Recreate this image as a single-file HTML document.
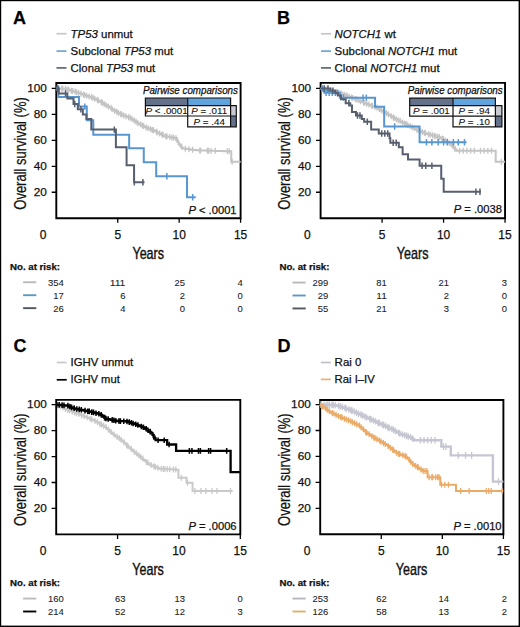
<!DOCTYPE html><html><head><meta charset="utf-8"><style>html,body{margin:0;padding:0;background:#fff;}svg{display:block;}</style></head><body><svg width="520" height="627" viewBox="0 0 520 627" font-family='"Liberation Sans", sans-serif'>
<style>text{stroke:#111;stroke-width:0.25px;}</style>
<rect x="0" y="0" width="520" height="627" fill="#fff"/>
<text x="12.9" y="24" font-size="18" font-weight="bold" fill="#000">A</text>
<text x="277" y="24" font-size="18" font-weight="bold" fill="#000">B</text>
<text x="13.4" y="352.2" font-size="18" font-weight="bold" fill="#000">C</text>
<text x="277.5" y="352.2" font-size="18" font-weight="bold" fill="#000">D</text>
<path d="M56.50,33.70 H66.50" stroke="#c6c6c6" stroke-width="1.7"/>
<text x="70.60" y="37.50" font-size="11.0" fill="#111" textLength="62.2" lengthAdjust="spacingAndGlyphs"><tspan font-style="italic">TP53</tspan> unmut</text>
<path d="M56.50,51.10 H66.50" stroke="#6fa6d2" stroke-width="1.7"/>
<text x="70.60" y="54.70" font-size="11.0" fill="#111" textLength="102.6" lengthAdjust="spacingAndGlyphs">Subclonal <tspan font-style="italic">TP53</tspan> mut</text>
<path d="M56.50,67.90 H66.50" stroke="#5f6774" stroke-width="1.7"/>
<text x="70.60" y="71.80" font-size="11.0" fill="#111" textLength="84.6" lengthAdjust="spacingAndGlyphs">Clonal <tspan font-style="italic">TP53</tspan> mut</text>
<path d="M321.00,33.80 H331.00" stroke="#c6c6c6" stroke-width="1.7"/>
<text x="334.60" y="37.50" font-size="11.0" fill="#111" textLength="61.2" lengthAdjust="spacingAndGlyphs"><tspan font-style="italic">NOTCH1</tspan> wt</text>
<path d="M321.00,51.10 H331.00" stroke="#6fa6d2" stroke-width="1.7"/>
<text x="334.60" y="54.70" font-size="11.0" fill="#111" textLength="122.6" lengthAdjust="spacingAndGlyphs">Subclonal <tspan font-style="italic">NOTCH1</tspan> mut</text>
<path d="M321.00,67.90 H331.00" stroke="#5f6774" stroke-width="1.7"/>
<text x="334.60" y="71.80" font-size="11.0" fill="#111" textLength="105.0" lengthAdjust="spacingAndGlyphs">Clonal <tspan font-style="italic">NOTCH1</tspan> mut</text>
<path d="M56.70,362.50 H66.70" stroke="#c8c8c8" stroke-width="1.7"/>
<text x="70.60" y="365.90" font-size="11.0" fill="#111" textLength="62.6" lengthAdjust="spacingAndGlyphs">IGHV unmut</text>
<path d="M56.70,379.80 H66.70" stroke="#000" stroke-width="1.7"/>
<text x="70.60" y="382.80" font-size="11.0" fill="#111" textLength="49.2" lengthAdjust="spacingAndGlyphs">IGHV mut</text>
<path d="M320.80,362.50 H330.80" stroke="#bfbfc8" stroke-width="1.7"/>
<text x="334.60" y="365.90" font-size="11.0" fill="#111" textLength="26.8" lengthAdjust="spacingAndGlyphs">Rai 0</text>
<path d="M320.80,379.40 H330.80" stroke="#e6b27a" stroke-width="1.7"/>
<text x="334.60" y="382.80" font-size="11.0" fill="#111" textLength="40.2" lengthAdjust="spacingAndGlyphs">Rai I–IV</text>
<path d="M56.30,83.00 H240.60 V218.20 H56.30 Z" fill="none" stroke="#000" stroke-width="1.9"/>
<path d="M51.70,192.25 H56.30 M51.70,166.30 H56.30 M51.70,140.35 H56.30 M51.70,114.40 H56.30 M51.70,88.45 H56.30 M117.73,218.20 V222.80 M179.17,218.20 V222.80 M240.60,218.20 V222.80 " stroke="#000" stroke-width="1.3" fill="none"/>
<text x="46.90" y="195.75" font-size="11.8" text-anchor="end" fill="#111">20</text>
<text x="46.90" y="169.80" font-size="11.8" text-anchor="end" fill="#111">40</text>
<text x="46.90" y="143.85" font-size="11.8" text-anchor="end" fill="#111">60</text>
<text x="46.90" y="117.90" font-size="11.8" text-anchor="end" fill="#111">80</text>
<text x="46.90" y="91.95" font-size="11.8" text-anchor="end" fill="#111">100</text>
<text x="43.10" y="238.90" font-size="12.0" text-anchor="middle" fill="#111">0</text>
<text x="117.73" y="238.90" font-size="12.0" text-anchor="middle" fill="#111">5</text>
<text x="179.17" y="238.90" font-size="12.0" text-anchor="middle" fill="#111">10</text>
<text x="240.60" y="238.90" font-size="12.0" text-anchor="middle" fill="#111">15</text>
<text x="148.25" y="258.50" font-size="16.2" text-anchor="middle" textLength="31.6" lengthAdjust="spacingAndGlyphs" fill="#111" style="stroke-width:0.4px">Years</text>
<text transform="translate(25.60,153.45) rotate(-90)" font-size="15.6" text-anchor="middle" fill="#111" textLength="112.5" lengthAdjust="spacingAndGlyphs">Overall survival (%)</text>
<path d="M320.60,82.90 H505.05 V218.20 H320.60 Z" fill="none" stroke="#000" stroke-width="1.9"/>
<path d="M316.00,192.25 H320.60 M316.00,166.30 H320.60 M316.00,140.35 H320.60 M316.00,114.40 H320.60 M316.00,88.45 H320.60 M382.08,218.20 V222.80 M443.57,218.20 V222.80 M505.05,218.20 V222.80 " stroke="#000" stroke-width="1.3" fill="none"/>
<text x="311.20" y="195.75" font-size="11.8" text-anchor="end" fill="#111">20</text>
<text x="311.20" y="169.80" font-size="11.8" text-anchor="end" fill="#111">40</text>
<text x="311.20" y="143.85" font-size="11.8" text-anchor="end" fill="#111">60</text>
<text x="311.20" y="117.90" font-size="11.8" text-anchor="end" fill="#111">80</text>
<text x="311.20" y="91.95" font-size="11.8" text-anchor="end" fill="#111">100</text>
<text x="307.40" y="238.90" font-size="12.0" text-anchor="middle" fill="#111">0</text>
<text x="382.08" y="238.90" font-size="12.0" text-anchor="middle" fill="#111">5</text>
<text x="443.57" y="238.90" font-size="12.0" text-anchor="middle" fill="#111">10</text>
<text x="505.05" y="238.90" font-size="12.0" text-anchor="middle" fill="#111">15</text>
<text x="412.63" y="258.50" font-size="16.2" text-anchor="middle" textLength="31.6" lengthAdjust="spacingAndGlyphs" fill="#111" style="stroke-width:0.4px">Years</text>
<text transform="translate(289.60,153.45) rotate(-90)" font-size="15.6" text-anchor="middle" fill="#111" textLength="112.5" lengthAdjust="spacingAndGlyphs">Overall survival (%)</text>
<path d="M56.20,399.85 H240.30 V534.40 H56.20 Z" fill="none" stroke="#000" stroke-width="1.9"/>
<path d="M51.60,508.45 H56.20 M51.60,482.50 H56.20 M51.60,456.55 H56.20 M51.60,430.60 H56.20 M51.60,404.65 H56.20 M117.57,534.40 V539.00 M178.93,534.40 V539.00 M240.30,534.40 V539.00 " stroke="#000" stroke-width="1.3" fill="none"/>
<text x="46.80" y="511.95" font-size="11.8" text-anchor="end" fill="#111">20</text>
<text x="46.80" y="486.00" font-size="11.8" text-anchor="end" fill="#111">40</text>
<text x="46.80" y="460.05" font-size="11.8" text-anchor="end" fill="#111">60</text>
<text x="46.80" y="434.10" font-size="11.8" text-anchor="end" fill="#111">80</text>
<text x="46.80" y="408.15" font-size="11.8" text-anchor="end" fill="#111">100</text>
<text x="43.00" y="555.10" font-size="12.0" text-anchor="middle" fill="#111">0</text>
<text x="117.57" y="555.10" font-size="12.0" text-anchor="middle" fill="#111">5</text>
<text x="178.93" y="555.10" font-size="12.0" text-anchor="middle" fill="#111">10</text>
<text x="240.30" y="555.10" font-size="12.0" text-anchor="middle" fill="#111">15</text>
<text x="148.05" y="574.70" font-size="16.2" text-anchor="middle" textLength="31.6" lengthAdjust="spacingAndGlyphs" fill="#111" style="stroke-width:0.4px">Years</text>
<text transform="translate(25.60,469.60) rotate(-90)" font-size="15.6" text-anchor="middle" fill="#111" textLength="112.6" lengthAdjust="spacingAndGlyphs">Overall survival (%)</text>
<path d="M320.20,399.95 H503.40 V534.30 H320.20 Z" fill="none" stroke="#000" stroke-width="1.9"/>
<path d="M315.60,508.35 H320.20 M315.60,482.40 H320.20 M315.60,456.45 H320.20 M315.60,430.50 H320.20 M315.60,404.55 H320.20 M381.27,534.30 V538.90 M442.33,534.30 V538.90 M503.40,534.30 V538.90 " stroke="#000" stroke-width="1.3" fill="none"/>
<text x="310.80" y="511.85" font-size="11.8" text-anchor="end" fill="#111">20</text>
<text x="310.80" y="485.90" font-size="11.8" text-anchor="end" fill="#111">40</text>
<text x="310.80" y="459.95" font-size="11.8" text-anchor="end" fill="#111">60</text>
<text x="310.80" y="434.00" font-size="11.8" text-anchor="end" fill="#111">80</text>
<text x="310.80" y="408.05" font-size="11.8" text-anchor="end" fill="#111">100</text>
<text x="307.00" y="555.00" font-size="12.0" text-anchor="middle" fill="#111">0</text>
<text x="381.27" y="555.00" font-size="12.0" text-anchor="middle" fill="#111">5</text>
<text x="442.33" y="555.00" font-size="12.0" text-anchor="middle" fill="#111">10</text>
<text x="503.40" y="555.00" font-size="12.0" text-anchor="middle" fill="#111">15</text>
<text x="411.60" y="574.60" font-size="16.2" text-anchor="middle" textLength="31.6" lengthAdjust="spacingAndGlyphs" fill="#111" style="stroke-width:0.4px">Years</text>
<text transform="translate(289.60,469.60) rotate(-90)" font-size="15.6" text-anchor="middle" fill="#111" textLength="112.6" lengthAdjust="spacingAndGlyphs">Overall survival (%)</text>
<path d="M56.30,88.45 L56.81,88.45 L56.81,88.49 L57.84,88.49 L57.84,88.54 L58.86,88.54 L58.86,88.58 L59.88,88.58 L59.88,88.62 L60.91,88.62 L60.91,88.66 L61.93,88.66 L61.93,88.71 L62.96,88.71 L62.96,88.75 L63.98,88.75 L63.98,88.79 L65.00,88.79 L65.00,88.83 L66.03,88.83 L66.03,89.11 L67.05,89.11 L67.05,89.41 L68.07,89.41 L68.07,89.72 L69.10,89.72 L69.10,90.02 L70.12,90.02 L70.12,90.33 L71.15,90.33 L71.15,90.63 L72.17,90.63 L72.17,90.94 L73.19,90.94 L73.19,91.24 L74.22,91.24 L74.22,91.55 L75.24,91.55 L75.24,91.88 L76.27,91.88 L76.27,92.23 L77.29,92.23 L77.29,92.58 L78.31,92.58 L78.31,92.93 L79.34,92.93 L79.34,93.28 L80.36,93.28 L80.36,93.63 L81.39,93.63 L81.39,93.98 L82.41,93.98 L82.41,94.34 L83.43,94.34 L83.43,94.69 L84.46,94.69 L84.46,95.04 L85.48,95.04 L85.48,95.39 L86.50,95.39 L86.50,95.74 L87.53,95.74 L87.53,96.09 L88.55,96.09 L88.55,96.44 L89.58,96.44 L89.58,96.79 L90.60,96.79 L90.60,97.14 L91.62,97.14 L91.62,97.50 L92.65,97.50 L92.65,97.85 L93.67,97.85 L93.67,98.20 L94.70,98.20 L94.70,98.71 L95.72,98.71 L95.72,99.30 L96.74,99.30 L96.74,99.88 L97.77,99.88 L97.77,100.47 L98.79,100.47 L98.79,101.05 L99.82,101.05 L99.82,101.64 L100.84,101.64 L100.84,102.23 L101.86,102.23 L101.86,102.81 L102.89,102.81 L102.89,103.40 L103.91,103.40 L103.91,103.98 L104.93,103.98 L104.93,104.57 L105.96,104.57 L105.96,105.16 L106.98,105.16 L106.98,105.74 L108.01,105.74 L108.01,106.43 L109.03,106.43 L109.03,107.13 L110.05,107.13 L110.05,107.83 L111.08,107.83 L111.08,108.54 L112.10,108.54 L112.10,109.24 L113.13,109.24 L113.13,109.95 L114.15,109.95 L114.15,110.65 L115.17,110.65 L115.17,111.30 L116.20,111.30 L116.20,111.83 L117.22,111.83 L117.22,112.35 L118.25,112.35 L118.25,112.87 L119.27,112.87 L119.27,113.40 L120.29,113.40 L120.29,113.92 L121.32,113.92 L121.32,114.44 L122.34,114.44 L122.34,114.97 L123.36,114.97 L123.36,115.38 L124.39,115.38 L124.39,115.78 L125.41,115.78 L125.41,116.17 L126.44,116.17 L126.44,116.56 L127.46,116.56 L127.46,116.96 L128.48,116.96 L128.48,117.35 L129.51,117.35 L129.51,117.75 L130.53,117.75 L130.53,118.23 L131.56,118.23 L131.56,118.96 L132.58,118.96 L132.58,119.68 L133.60,119.68 L133.60,120.40 L134.63,120.40 L134.63,121.12 L135.65,121.12 L135.65,121.84 L136.68,121.84 L136.68,122.56 L137.70,122.56 L137.70,123.28 L138.72,123.28 L138.72,123.85 L139.75,123.85 L139.75,124.37 L140.77,124.37 L140.77,124.88 L141.79,124.88 L141.79,125.39 L142.82,125.39 L142.82,125.91 L143.84,125.91 L143.84,126.42 L144.87,126.42 L144.87,126.94 L145.89,126.94 L145.89,127.41 L146.91,127.41 L146.91,127.82 L147.94,127.82 L147.94,128.23 L148.96,128.23 L148.96,128.65 L149.99,128.65 L149.99,129.06 L151.01,129.06 L151.01,129.47 L152.03,129.47 L152.03,129.88 L153.06,129.88 L153.06,130.29 L154.08,130.29 L154.08,130.80 L155.11,130.80 L155.11,131.33 L156.13,131.33 L156.13,131.86 L157.15,131.86 L157.15,132.39 L158.18,132.39 L158.18,132.92 L159.20,132.92 L159.20,133.44 L160.22,133.44 L160.22,133.97 L161.25,133.97 L161.25,134.50 L162.27,134.50 L162.27,135.03 L163.30,135.03 L163.30,135.56 L164.32,135.56 L164.32,136.00 L165.34,136.00 L165.34,136.20 L166.37,136.20 L166.37,136.41 L167.39,136.41 L167.39,136.61 L168.42,136.61 L168.42,136.82 L169.44,136.82 L169.44,137.02 L170.46,137.02 L170.46,137.23 L171.49,137.23 L171.49,137.43 L172.51,137.43 L172.51,137.63 L173.54,137.63 L173.54,137.84 L174.56,137.84 L174.56,138.04 L175.58,138.04 L175.58,138.25 L176.61,138.25 L176.61,140.00 L177.63,140.00 L177.63,141.96 L178.65,141.96 L178.65,143.93 L179.68,143.93 L179.68,145.38 L180.70,145.38 L180.70,146.54 L181.73,146.54 L181.73,147.70 L182.75,147.70 L182.75,148.45 L183.77,148.45 L183.77,148.58 L184.80,148.58 L184.80,148.72 L185.82,148.72 L185.82,148.85 L186.85,148.85 L186.85,148.99 L187.87,148.99 L187.87,149.12 L188.89,149.12 L188.89,149.26 L189.92,149.26 L189.92,149.39 L190.94,149.39 L190.94,149.53 L191.97,149.53 L191.97,149.66 L192.99,149.66 L192.99,149.80 L194.01,149.80 L194.01,149.94 L195.04,149.94 L195.04,150.07 L196.06,150.07 L196.06,150.21 L197.08,150.21 L197.08,150.34 L198.11,150.34 L198.11,150.37 L199.13,150.37 L199.13,150.40 L200.16,150.40 L200.16,150.43 L201.18,150.43 L201.18,150.46 L202.20,150.46 L202.20,150.49 L203.23,150.49 L203.23,150.52 L204.25,150.52 L204.25,150.55 L205.28,150.55 L205.28,150.58 L206.30,150.58 L206.30,150.61 L207.32,150.61 L207.32,150.64 L208.35,150.64 L208.35,150.67 L209.37,150.67 L209.37,150.70 L210.40,150.70 L210.40,150.73 L211.42,150.73 L211.42,150.76 L212.44,150.76 L212.44,150.79 L213.47,150.79 L213.47,150.83 L214.49,150.83 L214.49,150.86 L215.51,150.86 L215.51,150.89 L216.54,150.89 L216.54,150.92 L217.56,150.92 L217.56,150.95 L218.59,150.95 L218.59,150.98 L219.61,150.98 L219.61,151.01 L220.63,151.01 L220.63,151.04 L221.66,151.04 L221.66,151.07 L222.68,151.07 L222.68,151.10 L223.71,151.10 L223.71,151.13 L224.73,151.13 L224.73,151.16 L225.75,151.16 L225.75,151.19 L226.78,151.19 L226.78,151.22 L227.80,151.22 L227.80,151.25 L231.26,151.25 L231.26,161.76 L240.60,161.76" fill="none" stroke="#c4c4c4" stroke-width="2.0" stroke-linejoin="miter" stroke-linecap="butt"/>
<path d="M57.29,85.49 V91.49 M59.01,85.58 V91.58 M61.67,85.66 V91.66 M62.84,85.71 V91.71 M65.44,85.83 V91.83 M67.17,86.41 V92.41 M68.72,86.72 V92.72 M71.30,87.63 V93.63 M72.62,87.94 V93.94 M75.13,88.55 V94.55 M76.60,89.23 V95.23 M78.59,89.93 V95.93 M81.02,90.63 V96.63 M83.53,91.69 V97.69 M84.53,92.04 V98.04 M86.64,92.74 V98.74 M89.16,93.44 V99.44 M91.56,94.14 V100.14 M93.02,94.85 V100.85 M94.74,95.71 V101.71 M97.50,96.88 V102.88 M98.19,97.47 V103.47 M101.27,99.23 V105.23 M102.45,99.81 V105.81 M104.22,100.98 V106.98 M106.15,102.16 V108.16 M108.38,103.43 V109.43 M111.04,104.83 V110.83 M112.13,106.24 V112.24 M114.65,107.65 V113.65 M116.70,108.83 V114.83 M118.29,109.87 V115.87 M120.50,110.92 V116.92 M121.80,111.44 V117.44 M123.76,112.38 V118.38 M125.93,113.17 V119.17 M128.55,114.35 V120.35 M130.17,114.75 V120.75 M131.98,115.96 V121.96 M134.32,117.40 V123.40 M136.10,118.84 V124.84 M137.85,120.28 V126.28 M140.50,121.37 V127.37 M142.33,122.39 V128.39 M143.67,122.91 V128.91 M146.10,124.41 V130.41 M147.99,125.23 V131.23 M150.44,126.06 V132.06 M152.21,126.88 V132.88 M153.56,127.29 V133.29 M156.48,128.86 V134.86 M157.26,129.39 V135.39 M159.64,130.44 V136.44 M162.07,131.50 V137.50 M163.21,132.03 V138.03 M165.64,133.20 V139.20 M166.98,133.41 V139.41 M169.81,134.02 V140.02 M171.91,134.43 V140.43 M173.62,134.84 V140.84 M176.00,135.25 V141.25 M177.19,137.00 V143.00 M181.62,143.54 V149.54 M185.31,145.72 V151.72 M189.00,146.26 V152.26 M192.68,146.66 V152.66 M199.81,147.40 V153.40 M200.55,147.43 V153.43 M207.43,147.64 V153.64 M208.78,147.67 V153.67 M210.99,147.73 V153.73 M215.29,147.86 V153.86 M227.33,148.22 V154.22 M229.17,148.25 V154.25 M232.12,158.76 V164.76 " fill="none" stroke="#c4c4c4" stroke-width="1.3"/>
<path d="M56.30,88.45 L58.39,88.45 L58.39,97.01 L79.03,97.01 L79.03,106.61 L86.77,106.61 L86.77,120.24 L93.28,120.24 L93.28,134.77 L129.16,134.77 L129.16,148.26 L143.78,148.26 L143.78,162.28 L156.19,162.28 L156.19,176.29 L187.03,176.29 L187.03,197.18 L195.75,197.18" fill="none" stroke="#5896d2" stroke-width="2.0" stroke-linejoin="miter" stroke-linecap="butt"/>
<path d="M58.14,85.25 V91.65 M84.81,103.41 V109.81 M166.88,173.09 V179.49 M192.68,193.98 V200.38 " fill="none" stroke="#5896d2" stroke-width="1.5"/>
<path d="M56.30,88.45 L58.76,88.45 L58.76,93.38 L67.36,93.38 L67.36,98.44 L73.50,98.44 L73.50,104.02 L77.80,104.02 L77.80,109.21 L82.84,109.21 L82.84,114.40 L86.40,114.40 L86.40,118.94 L91.32,118.94 L91.32,129.58 L115.89,129.58 L115.89,147.36 L126.58,147.36 L126.58,165.26 L134.07,165.26 L134.07,182.26 L144.52,182.26" fill="none" stroke="#575f6f" stroke-width="2.0" stroke-linejoin="miter" stroke-linecap="butt"/>
<path d="M57.53,85.25 V91.65 M65.52,90.18 V96.58 M74.73,100.82 V107.22 M80.87,106.01 V112.41 M114.29,126.38 V132.78 M134.32,179.06 V185.46 M142.92,179.06 V185.46 " fill="none" stroke="#575f6f" stroke-width="1.5"/>
<text x="237.90" y="93.70" font-size="10.0" text-anchor="end" font-style="italic" textLength="95" lengthAdjust="spacingAndGlyphs" fill="#111">Pairwise comparisons</text>
<rect x="145.40" y="98.00" width="42.30" height="7.60" fill="#63718b"/>
<rect x="187.70" y="98.00" width="42.90" height="7.60" fill="#60a4de"/>
<rect x="230.60" y="105.60" width="5.70" height="10.40" fill="#c9c9d1"/>
<rect x="230.60" y="116.00" width="5.70" height="10.80" fill="#63718b"/>
<path d="M145.40,98.00 H230.60 V105.60 H145.40 Z M145.40,105.60 H236.30 V126.80 H187.70 V116.00 H145.40 Z M187.70,98.00 V126.80 M187.70,116.00 H236.30 M230.60,105.60 V126.80" fill="none" stroke="#111" stroke-width="1.2"/>
<text x="166.60" y="114.20" font-size="9.8" text-anchor="middle" fill="#111" style="stroke-width:0.1px"><tspan font-style="italic">P</tspan> &lt; .0001</text>
<text x="209.20" y="114.20" font-size="9.8" text-anchor="middle" fill="#111" style="stroke-width:0.1px"><tspan font-style="italic">P</tspan> = .011</text>
<text x="209.20" y="124.80" font-size="9.8" text-anchor="middle" fill="#111" style="stroke-width:0.1px"><tspan font-style="italic">P</tspan> = .44</text>
<text x="236.6" y="213.6" font-size="11.2" text-anchor="end" fill="#111"><tspan font-style="italic">P</tspan> &lt; .0001</text>
<path d="M320.60,88.45 L321.11,88.45 L321.11,88.68 L322.14,88.68 L322.14,88.91 L323.17,88.91 L323.17,89.14 L324.19,89.14 L324.19,89.37 L325.22,89.37 L325.22,89.61 L326.25,89.61 L326.25,89.84 L327.28,89.84 L327.28,90.07 L328.30,90.07 L328.30,90.30 L329.33,90.30 L329.33,90.53 L330.36,90.53 L330.36,90.76 L331.38,90.76 L331.38,90.99 L332.41,90.99 L332.41,91.22 L333.44,91.22 L333.44,91.46 L334.47,91.46 L334.47,91.69 L335.49,91.69 L335.49,91.92 L336.52,91.92 L336.52,92.15 L337.55,92.15 L337.55,92.38 L338.57,92.38 L338.57,92.62 L339.60,92.62 L339.60,93.02 L340.63,93.02 L340.63,93.43 L341.66,93.43 L341.66,93.83 L342.68,93.83 L342.68,94.24 L343.71,94.24 L343.71,94.64 L344.74,94.64 L344.74,95.05 L345.76,95.05 L345.76,95.45 L346.79,95.45 L346.79,95.86 L347.82,95.86 L347.82,96.26 L348.85,96.26 L348.85,96.67 L349.87,96.67 L349.87,97.07 L350.90,97.07 L350.90,97.48 L351.93,97.48 L351.93,97.88 L352.95,97.88 L352.95,98.29 L353.98,98.29 L353.98,98.69 L355.01,98.69 L355.01,99.09 L356.04,99.09 L356.04,99.50 L357.06,99.50 L357.06,99.90 L358.09,99.90 L358.09,100.31 L359.12,100.31 L359.12,100.73 L360.14,100.73 L360.14,101.14 L361.17,101.14 L361.17,101.56 L362.20,101.56 L362.20,101.98 L363.23,101.98 L363.23,102.39 L364.25,102.39 L364.25,102.81 L365.28,102.81 L365.28,103.23 L366.31,103.23 L366.31,103.64 L367.33,103.64 L367.33,104.06 L368.36,104.06 L368.36,104.48 L369.39,104.48 L369.39,104.90 L370.42,104.90 L370.42,105.31 L371.44,105.31 L371.44,105.73 L372.47,105.73 L372.47,106.15 L373.50,106.15 L373.50,106.56 L374.52,106.56 L374.52,106.98 L375.55,106.98 L375.55,107.40 L376.58,107.40 L376.58,107.81 L377.61,107.81 L377.61,108.32 L378.63,108.32 L378.63,108.92 L379.66,108.92 L379.66,109.53 L380.69,109.53 L380.69,110.14 L381.71,110.14 L381.71,110.75 L382.74,110.75 L382.74,111.35 L383.77,111.35 L383.77,111.96 L384.80,111.96 L384.80,112.57 L385.82,112.57 L385.82,113.18 L386.85,113.18 L386.85,113.78 L387.88,113.78 L387.88,114.39 L388.90,114.39 L388.90,115.00 L389.93,115.00 L389.93,115.61 L390.96,115.61 L390.96,116.21 L391.99,116.21 L391.99,116.82 L393.01,116.82 L393.01,117.43 L394.04,117.43 L394.04,118.04 L395.07,118.04 L395.07,118.64 L396.09,118.64 L396.09,119.25 L397.12,119.25 L397.12,119.80 L398.15,119.80 L398.15,120.33 L399.18,120.33 L399.18,120.85 L400.20,120.85 L400.20,121.38 L401.23,121.38 L401.23,121.90 L402.26,121.90 L402.26,122.43 L403.28,122.43 L403.28,122.95 L404.31,122.95 L404.31,123.47 L405.34,123.47 L405.34,124.00 L406.37,124.00 L406.37,124.52 L407.39,124.52 L407.39,125.05 L408.42,125.05 L408.42,125.57 L409.45,125.57 L409.45,126.10 L410.47,126.10 L410.47,126.62 L411.50,126.62 L411.50,127.15 L412.53,127.15 L412.53,127.67 L413.56,127.67 L413.56,128.19 L414.58,128.19 L414.58,128.72 L415.61,128.72 L415.61,129.24 L416.64,129.24 L416.64,129.68 L417.66,129.68 L417.66,130.12 L418.69,130.12 L418.69,130.56 L419.72,130.56 L419.72,131.00 L420.75,131.00 L420.75,131.44 L421.77,131.44 L421.77,131.88 L422.80,131.88 L422.80,132.33 L423.83,132.33 L423.83,132.77 L424.85,132.77 L424.85,133.21 L425.88,133.21 L425.88,133.59 L426.91,133.59 L426.91,133.88 L427.94,133.88 L427.94,134.16 L428.96,134.16 L428.96,134.45 L429.99,134.45 L429.99,134.74 L431.02,134.74 L431.02,135.02 L432.04,135.02 L432.04,135.31 L433.07,135.31 L433.07,135.60 L434.10,135.60 L434.10,135.89 L435.13,135.89 L435.13,136.17 L436.15,136.17 L436.15,136.46 L437.18,136.46 L437.18,136.75 L438.21,136.75 L438.21,137.03 L439.23,137.03 L439.23,137.32 L440.26,137.32 L440.26,137.75 L441.29,137.75 L441.29,138.40 L442.32,138.40 L442.32,139.04 L443.34,139.04 L443.34,139.69 L444.37,139.69 L444.37,140.33 L445.40,140.33 L445.40,140.98 L446.42,140.98 L446.42,141.62 L447.45,141.62 L447.45,142.27 L448.48,142.27 L448.48,142.92 L449.51,142.92 L449.51,143.56 L450.53,143.56 L450.53,144.21 L451.56,144.21 L451.56,144.94 L452.59,144.94 L452.59,146.18 L453.61,146.18 L453.61,147.42 L454.64,147.42 L454.64,148.66 L455.67,148.66 L455.67,149.91 L456.70,149.91 L456.70,150.86 L457.72,150.86 L457.72,150.86 L458.75,150.86 L458.75,150.86 L459.78,150.86 L459.78,150.86 L460.80,150.86 L460.80,150.86 L461.83,150.86 L461.83,150.86 L462.86,150.86 L462.86,150.86 L463.89,150.86 L463.89,150.86 L464.91,150.86 L464.91,150.86 L465.94,150.86 L465.94,150.86 L466.97,150.86 L466.97,150.86 L467.99,150.86 L467.99,150.86 L469.02,150.86 L469.02,150.86 L470.05,150.86 L470.05,150.86 L471.08,150.86 L471.08,150.86 L472.10,150.86 L472.10,150.86 L473.13,150.86 L473.13,150.86 L474.16,150.86 L474.16,150.86 L475.18,150.86 L475.18,150.86 L476.21,150.86 L476.21,150.86 L477.24,150.86 L477.24,150.86 L478.26,150.86 L478.26,150.86 L479.29,150.86 L479.29,150.86 L480.32,150.86 L480.32,150.86 L481.35,150.86 L481.35,150.86 L482.37,150.86 L482.37,150.86 L483.40,150.86 L483.40,150.86 L484.43,150.86 L484.43,150.86 L485.45,150.86 L485.45,150.86 L486.48,150.86 L486.48,150.86 L487.51,150.86 L487.51,150.86 L488.54,150.86 L488.54,150.86 L489.56,150.86 L489.56,150.86 L490.59,150.86 L490.59,150.86 L491.62,150.86 L491.62,150.86 L492.64,150.86 L492.64,150.86 L493.67,150.86 L493.67,150.86 L494.70,150.86 L494.70,150.86 L495.70,150.86 L495.70,161.63 L505.05,161.63" fill="none" stroke="#c4c4c4" stroke-width="2.0" stroke-linejoin="miter" stroke-linecap="butt"/>
<path d="M322.10,85.68 V91.68 M323.93,86.14 V92.14 M325.87,86.61 V92.61 M327.67,87.07 V93.07 M330.17,87.53 V93.53 M332.28,87.99 V93.99 M333.60,88.46 V94.46 M335.83,88.92 V94.92 M336.96,89.15 V95.15 M339.81,90.02 V96.02 M341.71,90.83 V96.83 M344.15,91.64 V97.64 M345.88,92.45 V98.45 M347.11,92.86 V98.86 M349.22,93.67 V99.67 M351.57,94.48 V100.48 M352.65,94.88 V100.88 M355.22,96.09 V102.09 M356.79,96.50 V102.50 M358.68,97.31 V103.31 M360.57,98.14 V104.14 M363.52,99.39 V105.39 M364.60,99.81 V105.81 M366.73,100.64 V106.64 M368.90,101.48 V107.48 M371.53,102.73 V108.73 M372.41,102.73 V108.73 M374.88,103.98 V109.98 M376.99,104.81 V110.81 M379.41,105.92 V111.92 M381.29,107.14 V113.14 M383.32,108.35 V114.35 M384.48,108.96 V114.96 M386.64,110.18 V116.18 M388.53,111.39 V117.39 M391.22,113.21 V119.21 M393.29,114.43 V120.43 M394.15,115.04 V121.04 M396.15,116.25 V122.25 M398.19,117.33 V123.33 M400.16,117.85 V123.85 M402.48,119.43 V125.43 M404.59,120.47 V126.47 M406.10,121.00 V127.00 M407.72,122.05 V128.05 M410.25,123.10 V129.10 M412.15,124.15 V130.15 M414.39,125.19 V131.19 M416.89,126.68 V132.68 M418.50,127.12 V133.12 M420.22,128.00 V134.00 M422.33,128.88 V134.88 M424.38,129.77 V135.77 M425.49,130.21 V136.21 M428.62,131.16 V137.16 M430.43,131.74 V137.74 M432.52,132.31 V138.31 M434.39,132.89 V138.89 M435.79,133.17 V139.17 M437.77,133.75 V139.75 M439.33,134.32 V140.32 M442.03,135.40 V141.40 M443.21,136.04 V142.04 M445.18,137.33 V143.33 M447.35,138.62 V144.62 M449.25,139.92 V145.92 M451.46,141.21 V147.21 M453.03,143.18 V149.18 M454.93,145.66 V151.66 M459.55,147.86 V153.86 M463.24,147.86 V153.86 M466.93,147.86 V153.86 M470.62,147.86 V153.86 M474.31,147.86 V153.86 M480.46,147.86 V153.86 M484.15,147.86 V153.86 M487.83,147.86 V153.86 M491.52,147.86 V153.86 M501.36,158.63 V164.63 " fill="none" stroke="#c4c4c4" stroke-width="1.3"/>
<path d="M320.60,88.45 L324.29,88.45 L324.29,92.86 L339.91,92.86 L339.91,97.66 L375.07,97.66 L375.07,106.87 L384.17,106.87 L384.17,126.47 L419.59,126.47 L419.59,142.30 L466.56,142.30" fill="none" stroke="#5896d2" stroke-width="2.0" stroke-linejoin="miter" stroke-linecap="butt"/>
<path d="M322.44,85.25 V91.65 M326.13,89.66 V96.06 M329.21,89.66 V96.06 M332.28,89.66 V96.06 M335.36,89.66 V96.06 M337.82,89.66 V96.06 M343.35,94.46 V100.86 M363.02,94.46 V100.86 M366.34,94.46 V100.86 M394.63,123.27 V129.67 M426.47,139.10 V145.50 M431.88,139.10 V145.50 M438.16,139.10 V145.50 M443.57,139.10 V145.50 M447.26,139.10 V145.50 M453.40,139.10 V145.50 M458.32,139.10 V145.50 M464.47,139.10 V145.50 " fill="none" stroke="#5896d2" stroke-width="1.5"/>
<path d="M320.60,88.45 L330.44,88.45 L330.44,90.79 L335.36,90.79 L335.36,93.12 L337.82,93.12 L337.82,95.59 L341.01,95.59 L341.01,99.35 L345.69,99.35 L345.69,103.24 L350.23,103.24 L350.23,105.58 L351.96,105.58 L351.96,112.06 L356.01,112.06 L356.01,115.57 L361.79,115.57 L361.79,118.94 L364.13,118.94 L364.13,121.80 L371.14,121.80 L371.14,129.58 L378.76,129.58 L378.76,133.47 L389.58,133.47 L389.58,138.14 L390.32,138.14 L390.32,142.69 L398.81,142.69 L398.81,147.36 L402.62,147.36 L402.62,154.23 L408.03,154.23 L408.03,159.55 L419.59,159.55 L419.59,165.78 L441.23,165.78 L441.23,178.76 L443.69,178.76 L443.69,191.73 L480.83,191.73" fill="none" stroke="#575f6f" stroke-width="2.0" stroke-linejoin="miter" stroke-linecap="butt"/>
<path d="M324.29,85.25 V91.65 M327.98,85.25 V91.65 M332.90,87.59 V93.99 M348.88,100.04 V106.44 M357.49,112.37 V118.77 M359.95,112.37 V118.77 M367.33,118.60 V125.00 M381.71,130.27 V136.67 M384.79,130.27 V136.67 M387.74,130.27 V136.67 M393.15,139.49 V145.89 M396.22,139.49 V145.89 M422.05,162.58 V168.98 M425.74,162.58 V168.98 M431.88,162.58 V168.98 M475.91,188.53 V194.93 M479.96,188.53 V194.93 " fill="none" stroke="#575f6f" stroke-width="1.5"/>
<text x="502.70" y="93.80" font-size="10.0" text-anchor="end" font-style="italic" textLength="95" lengthAdjust="spacingAndGlyphs" fill="#111">Pairwise comparisons</text>
<rect x="409.70" y="98.10" width="43.30" height="7.60" fill="#63718b"/>
<rect x="453.00" y="98.10" width="42.40" height="7.60" fill="#60a4de"/>
<rect x="495.40" y="105.70" width="6.50" height="10.40" fill="#c9c9d1"/>
<rect x="495.40" y="116.10" width="6.50" height="10.80" fill="#63718b"/>
<path d="M409.70,98.10 H495.40 V105.70 H409.70 Z M409.70,105.70 H501.90 V126.90 H453.00 V116.10 H409.70 Z M453.00,98.10 V126.90 M453.00,116.10 H501.90 M495.40,105.70 V126.90" fill="none" stroke="#111" stroke-width="1.2"/>
<text x="431.40" y="114.20" font-size="9.8" text-anchor="middle" fill="#111" style="stroke-width:0.1px"><tspan font-style="italic">P</tspan> = .001</text>
<text x="474.20" y="114.20" font-size="9.8" text-anchor="middle" fill="#111" style="stroke-width:0.1px"><tspan font-style="italic">P</tspan> = .94</text>
<text x="474.20" y="124.60" font-size="9.8" text-anchor="middle" fill="#111" style="stroke-width:0.1px"><tspan font-style="italic">P</tspan> = .10</text>
<text x="502.0" y="213.3" font-size="11.2" text-anchor="end" fill="#111"><tspan font-style="italic">P</tspan> = .0038</text>
<path d="M56.20,404.65 L56.71,404.65 L56.71,405.11 L57.74,405.11 L57.74,405.57 L58.77,405.57 L58.77,406.04 L59.80,406.04 L59.80,406.50 L60.83,406.50 L60.83,406.96 L61.85,406.96 L61.85,407.42 L62.88,407.42 L62.88,407.88 L63.91,407.88 L63.91,408.35 L64.94,408.35 L64.94,408.81 L65.97,408.81 L65.97,409.24 L66.99,409.24 L66.99,409.63 L68.02,409.63 L68.02,410.02 L69.05,410.02 L69.05,410.41 L70.08,410.41 L70.08,410.80 L71.11,410.80 L71.11,411.19 L72.13,411.19 L72.13,411.58 L73.16,411.58 L73.16,411.97 L74.19,411.97 L74.19,412.36 L75.22,412.36 L75.22,412.75 L76.25,412.75 L76.25,413.15 L77.27,413.15 L77.27,413.54 L78.30,413.54 L78.30,413.93 L79.33,413.93 L79.33,414.32 L80.36,414.32 L80.36,414.75 L81.39,414.75 L81.39,415.18 L82.41,415.18 L82.41,415.62 L83.44,415.62 L83.44,416.06 L84.47,416.06 L84.47,416.49 L85.50,416.49 L85.50,416.93 L86.53,416.93 L86.53,417.37 L87.55,417.37 L87.55,417.80 L88.58,417.80 L88.58,418.24 L89.61,418.24 L89.61,418.68 L90.64,418.68 L90.64,419.11 L91.67,419.11 L91.67,419.55 L92.69,419.55 L92.69,419.99 L93.72,419.99 L93.72,420.42 L94.75,420.42 L94.75,420.91 L95.78,420.91 L95.78,421.52 L96.81,421.52 L96.81,422.14 L97.83,422.14 L97.83,422.75 L98.86,422.75 L98.86,423.37 L99.89,423.37 L99.89,423.99 L100.92,423.99 L100.92,424.60 L101.95,424.60 L101.95,425.22 L102.98,425.22 L102.98,425.83 L104.00,425.83 L104.00,426.45 L105.03,426.45 L105.03,427.07 L106.06,427.07 L106.06,427.88 L107.09,427.88 L107.09,428.86 L108.12,428.86 L108.12,429.85 L109.14,429.85 L109.14,430.84 L110.17,430.84 L110.17,431.82 L111.20,431.82 L111.20,432.81 L112.23,432.81 L112.23,433.77 L113.26,433.77 L113.26,434.51 L114.28,434.51 L114.28,435.25 L115.31,435.25 L115.31,435.99 L116.34,435.99 L116.34,436.72 L117.37,436.72 L117.37,437.46 L118.40,437.46 L118.40,438.20 L119.42,438.20 L119.42,438.94 L120.45,438.94 L120.45,439.67 L121.48,439.67 L121.48,440.41 L122.51,440.41 L122.51,441.16 L123.54,441.16 L123.54,442.17 L124.56,442.17 L124.56,443.18 L125.59,443.18 L125.59,444.19 L126.62,444.19 L126.62,445.21 L127.65,445.21 L127.65,446.22 L128.68,446.22 L128.68,447.23 L129.70,447.23 L129.70,448.20 L130.73,448.20 L130.73,449.08 L131.76,449.08 L131.76,449.95 L132.79,449.95 L132.79,450.83 L133.82,450.83 L133.82,451.70 L134.84,451.70 L134.84,452.58 L135.87,452.58 L135.87,453.45 L136.90,453.45 L136.90,454.33 L137.93,454.33 L137.93,455.20 L138.96,455.20 L138.96,456.08 L139.98,456.08 L139.98,456.93 L141.01,456.93 L141.01,457.77 L142.04,457.77 L142.04,458.60 L143.07,458.60 L143.07,459.44 L144.10,459.44 L144.10,460.27 L145.12,460.27 L145.12,461.11 L146.15,461.11 L146.15,461.94 L147.18,461.94 L147.18,462.78 L148.21,462.78 L148.21,463.61 L149.24,463.61 L149.24,464.45 L150.26,464.45 L150.26,465.00 L151.29,465.00 L151.29,465.40 L152.32,465.40 L152.32,465.81 L153.35,465.81 L153.35,466.21 L154.38,466.21 L154.38,466.62 L155.40,466.62 L155.40,467.03 L156.43,467.03 L156.43,467.43 L157.46,467.43 L157.46,467.84 L158.49,467.84 L158.49,468.24 L159.52,468.24 L159.52,468.65 L160.54,468.65 L160.54,468.79 L161.57,468.79 L161.57,468.85 L162.60,468.85 L162.60,468.91 L163.63,468.91 L163.63,468.96 L164.66,468.96 L164.66,469.02 L165.68,469.02 L165.68,469.08 L166.71,469.08 L166.71,469.14 L167.74,469.14 L167.74,469.19 L168.77,469.19 L168.77,469.25 L169.80,469.25 L169.80,469.31 L170.82,469.31 L170.82,469.37 L171.85,469.37 L171.85,469.42 L172.88,469.42 L172.88,469.48 L173.91,469.48 L173.91,469.54 L174.94,469.54 L174.94,469.60 L175.96,469.60 L175.96,469.65 L178.44,469.65 L178.44,477.83 L186.54,477.83 L186.54,482.76 L192.56,482.76 L192.56,490.93 L232.69,490.93" fill="none" stroke="#c9c9c9" stroke-width="2.0" stroke-linejoin="miter" stroke-linecap="butt"/>
<path d="M58.26,402.57 V408.57 M60.49,403.50 V409.50 M62.86,404.42 V410.42 M65.34,405.81 V411.81 M67.66,406.63 V412.63 M69.23,407.41 V413.41 M72.19,408.58 V414.58 M74.36,409.36 V415.36 M76.26,410.15 V416.15 M78.71,410.93 V416.93 M81.59,412.18 V418.18 M84.01,413.06 V419.06 M87.21,414.37 V420.37 M90.12,415.68 V421.68 M91.70,416.55 V422.55 M95.00,417.91 V423.91 M97.54,419.14 V425.14 M99.94,420.99 V426.99 M101.38,421.60 V427.60 M103.59,422.83 V428.83 M106.05,424.07 V430.07 M108.45,426.85 V432.85 M110.92,428.82 V434.82 M114.10,431.51 V437.51 M117.03,433.72 V439.72 M119.38,435.20 V441.20 M121.21,436.67 V442.67 M123.97,439.17 V445.17 M126.67,442.21 V448.21 M127.90,443.22 V449.22 M131.34,446.08 V452.08 M134.23,448.70 V454.70 M136.46,450.45 V456.45 M138.86,452.20 V458.20 M140.85,453.93 V459.93 M142.79,455.60 V461.60 M146.29,458.94 V464.94 M147.96,459.78 V465.78 M151.22,462.00 V468.00 M153.97,463.21 V469.21 M155.44,464.03 V470.03 M157.90,464.84 V470.84 M161.29,465.79 V471.79 M163.36,465.91 V471.91 M164.87,466.02 V472.02 M167.25,466.14 V472.14 M169.74,466.25 V472.25 M173.49,466.48 V472.48 M175.78,466.60 V472.60 M181.39,474.83 V480.83 M187.52,479.76 V485.76 M194.89,487.93 V493.93 M201.03,487.93 V493.93 M205.93,487.93 V493.93 M212.07,487.93 V493.93 M216.98,487.93 V493.93 M230.48,487.93 V493.93 " fill="none" stroke="#c9c9c9" stroke-width="1.3"/>
<path d="M56.20,404.65 L56.71,404.65 L56.71,404.73 L57.74,404.73 L57.74,404.82 L58.77,404.82 L58.77,404.90 L59.80,404.90 L59.80,404.99 L60.83,404.99 L60.83,405.07 L61.86,405.07 L61.86,405.16 L62.89,405.16 L62.89,405.24 L63.92,405.24 L63.92,405.33 L64.95,405.33 L64.95,405.41 L65.98,405.41 L65.98,405.50 L67.01,405.50 L67.01,405.67 L68.04,405.67 L68.04,406.09 L69.07,406.09 L69.07,406.50 L70.10,406.50 L70.10,406.92 L71.13,406.92 L71.13,407.33 L72.16,407.33 L72.16,407.75 L73.19,407.75 L73.19,408.16 L74.22,408.16 L74.22,408.58 L75.25,408.58 L75.25,408.82 L76.28,408.82 L76.28,409.02 L77.31,409.02 L77.31,409.22 L78.34,409.22 L78.34,409.41 L79.37,409.41 L79.37,409.61 L80.40,409.61 L80.40,409.80 L81.43,409.80 L81.43,410.00 L82.46,410.00 L82.46,410.20 L83.49,410.20 L83.49,410.39 L84.52,410.39 L84.52,410.59 L85.55,410.59 L85.55,410.79 L86.58,410.79 L86.58,410.98 L87.61,410.98 L87.61,411.18 L88.64,411.18 L88.64,411.38 L89.67,411.38 L89.67,411.59 L90.70,411.59 L90.70,411.85 L91.73,411.85 L91.73,412.12 L92.76,412.12 L92.76,412.39 L93.79,412.39 L93.79,412.65 L94.82,412.65 L94.82,412.92 L95.85,412.92 L95.85,413.18 L96.88,413.18 L96.88,413.45 L97.91,413.45 L97.91,413.72 L98.94,413.72 L98.94,413.98 L99.97,413.98 L99.97,414.25 L101.00,414.25 L101.00,414.85 L102.03,414.85 L102.03,415.77 L103.06,415.77 L103.06,416.69 L104.09,416.69 L104.09,417.61 L105.12,417.61 L105.12,418.53 L106.15,418.53 L106.15,418.84 L107.18,418.84 L107.18,419.05 L108.21,419.05 L108.21,419.26 L109.24,419.26 L109.24,419.47 L110.27,419.47 L110.27,419.68 L111.30,419.68 L111.30,419.88 L112.33,419.88 L112.33,420.09 L113.36,420.09 L113.36,420.30 L114.39,420.30 L114.39,420.51 L115.42,420.51 L115.42,420.72 L116.45,420.72 L116.45,420.93 L117.48,420.93 L117.48,421.02 L118.51,421.02 L118.51,421.05 L119.54,421.05 L119.54,421.08 L120.57,421.08 L120.57,421.10 L121.60,421.10 L121.60,421.13 L122.63,421.13 L122.63,421.16 L123.66,421.16 L123.66,421.19 L124.69,421.19 L124.69,421.22 L125.72,421.22 L125.72,421.25 L126.75,421.25 L126.75,421.50 L127.78,421.50 L127.78,421.83 L128.81,421.83 L128.81,422.16 L129.84,422.16 L129.84,422.48 L130.87,422.48 L130.87,422.81 L131.90,422.81 L131.90,423.14 L132.93,423.14 L132.93,423.47 L133.96,423.47 L133.96,423.80 L134.99,423.80 L134.99,424.19 L136.02,424.19 L136.02,424.58 L137.05,424.58 L137.05,424.97 L138.08,424.97 L138.08,425.36 L139.11,425.36 L139.11,425.76 L140.14,425.76 L140.14,426.15 L141.17,426.15 L141.17,426.54 L142.20,426.54 L142.20,426.93 L143.23,426.93 L143.23,427.32 L144.26,427.32 L144.26,428.02 L145.29,428.02 L145.29,428.75 L146.32,428.75 L146.32,429.47 L147.35,429.47 L147.35,430.20 L148.38,430.20 L148.38,430.93 L149.41,430.93 L149.41,431.65 L150.44,431.65 L150.44,432.38 L151.47,432.38 L151.47,433.16 L152.50,433.16 L152.50,434.92 L153.53,434.92 L153.53,436.68 L154.56,436.68 L154.56,438.44 L155.59,438.44 L155.59,440.20 L167.15,440.20 L167.15,444.48 L176.11,444.48 L176.11,450.84 L230.60,450.84 L230.60,472.12 L239.81,472.12" fill="none" stroke="#000" stroke-width="2.3" stroke-linejoin="miter" stroke-linecap="butt"/>
<path d="M56.83,401.93 V407.53 M59.20,402.10 V407.70 M62.10,402.36 V407.96 M63.98,402.53 V408.13 M67.89,402.87 V408.47 M69.90,403.70 V409.30 M71.55,404.53 V410.13 M74.18,405.36 V410.96 M76.80,406.22 V411.82 M79.29,406.61 V412.21 M81.33,407.00 V412.60 M85.03,407.79 V413.39 M87.73,408.38 V413.98 M89.28,408.58 V414.18 M91.76,409.32 V414.92 M93.54,409.59 V415.19 M96.02,410.38 V415.98 M98.89,410.92 V416.52 M101.21,412.05 V417.65 M104.63,414.81 V420.41 M105.94,415.73 V421.33 M108.16,416.25 V421.85 M112.20,417.08 V422.68 M113.93,417.50 V423.10 M115.73,417.92 V423.52 M118.87,418.25 V423.85 M120.44,418.28 V423.88 M123.75,418.39 V423.99 M126.98,418.70 V424.30 M129.24,419.36 V424.96 M131.40,420.01 V425.61 M133.11,420.67 V426.27 M135.75,421.39 V426.99 M137.86,422.17 V427.77 M141.35,423.74 V429.34 M143.40,424.52 V430.12 M146.27,425.95 V431.55 M147.96,427.40 V433.00 M150.23,428.85 V434.45 M153.69,433.88 V439.48 M158.07,437.40 V443.00 M164.21,437.40 V443.00 M169.11,441.68 V447.28 M189.37,448.04 V453.64 M191.94,448.04 V453.64 M198.45,448.04 V453.64 M200.41,448.04 V453.64 M208.63,448.04 V453.64 M210.60,448.04 V453.64 M226.68,448.04 V453.64 " fill="none" stroke="#000" stroke-width="1.5"/>
<text x="236.6" y="529.6" font-size="11.2" text-anchor="end" fill="#111"><tspan font-style="italic">P</tspan> = .0006</text>
<path d="M320.20,404.55 L320.71,404.55 L320.71,404.59 L321.73,404.59 L321.73,404.62 L322.74,404.62 L322.74,404.66 L323.76,404.66 L323.76,404.69 L324.78,404.69 L324.78,404.73 L325.80,404.73 L325.80,404.76 L326.82,404.76 L326.82,404.80 L327.83,404.80 L327.83,404.84 L328.85,404.84 L328.85,404.87 L329.87,404.87 L329.87,404.91 L330.89,404.91 L330.89,404.94 L331.90,404.94 L331.90,404.98 L332.92,404.98 L332.92,405.01 L333.94,405.01 L333.94,405.05 L334.96,405.05 L334.96,405.19 L335.98,405.19 L335.98,405.46 L336.99,405.46 L336.99,405.72 L338.01,405.72 L338.01,405.98 L339.03,405.98 L339.03,406.24 L340.05,406.24 L340.05,406.51 L341.06,406.51 L341.06,406.77 L342.08,406.77 L342.08,407.03 L343.10,407.03 L343.10,407.37 L344.12,407.37 L344.12,407.78 L345.14,407.78 L345.14,408.19 L346.15,408.19 L346.15,408.60 L347.17,408.60 L347.17,409.01 L348.19,409.01 L348.19,409.42 L349.21,409.42 L349.21,409.83 L350.22,409.83 L350.22,410.24 L351.24,410.24 L351.24,410.65 L352.26,410.65 L352.26,411.06 L353.28,411.06 L353.28,411.47 L354.30,411.47 L354.30,411.89 L355.31,411.89 L355.31,412.35 L356.33,412.35 L356.33,412.81 L357.35,412.81 L357.35,413.27 L358.37,413.27 L358.37,413.73 L359.38,413.73 L359.38,414.19 L360.40,414.19 L360.40,414.65 L361.42,414.65 L361.42,415.11 L362.44,415.11 L362.44,415.57 L363.46,415.57 L363.46,416.03 L364.47,416.03 L364.47,416.49 L365.49,416.49 L365.49,416.95 L366.51,416.95 L366.51,417.43 L367.53,417.43 L367.53,417.91 L368.54,417.91 L368.54,418.38 L369.56,418.38 L369.56,418.86 L370.58,418.86 L370.58,419.34 L371.60,419.34 L371.60,419.82 L372.62,419.82 L372.62,420.30 L373.63,420.30 L373.63,420.77 L374.65,420.77 L374.65,421.25 L375.67,421.25 L375.67,421.73 L376.69,421.73 L376.69,422.21 L377.70,422.21 L377.70,422.69 L378.72,422.69 L378.72,423.17 L379.74,423.17 L379.74,423.64 L380.76,423.64 L380.76,424.12 L381.78,424.12 L381.78,424.60 L382.79,424.60 L382.79,425.08 L383.81,425.08 L383.81,425.55 L384.83,425.55 L384.83,426.03 L385.85,426.03 L385.85,426.51 L386.86,426.51 L386.86,426.99 L387.88,426.99 L387.88,427.47 L388.90,427.47 L388.90,427.94 L389.92,427.94 L389.92,428.42 L390.94,428.42 L390.94,428.90 L391.95,428.90 L391.95,429.38 L392.97,429.38 L392.97,429.85 L393.99,429.85 L393.99,430.33 L395.01,430.33 L395.01,430.94 L396.02,430.94 L396.02,431.57 L397.04,431.57 L397.04,432.19 L398.06,432.19 L398.06,432.82 L399.08,432.82 L399.08,433.44 L400.10,433.44 L400.10,433.91 L401.11,433.91 L401.11,434.24 L402.13,434.24 L402.13,434.57 L403.15,434.57 L403.15,434.89 L404.17,434.89 L404.17,435.22 L405.18,435.22 L405.18,435.55 L406.20,435.55 L406.20,435.88 L407.22,435.88 L407.22,436.20 L408.24,436.20 L408.24,436.53 L409.26,436.53 L409.26,436.86 L410.27,436.86 L410.27,437.27 L411.29,437.27 L411.29,438.01 L412.31,438.01 L412.31,438.75 L413.33,438.75 L413.33,439.49 L414.34,439.49 L414.34,440.23 L441.36,440.23 L441.36,446.59 L450.76,446.59 L450.76,455.41 L492.90,455.41 L492.90,481.62 L503.40,481.62" fill="none" stroke="#c6c6d2" stroke-width="2.4" stroke-linejoin="miter" stroke-linecap="butt"/>
<path d="M320.91,401.29 V407.89 M323.97,401.39 V407.99 M326.27,401.46 V408.06 M327.88,401.54 V408.14 M329.51,401.57 V408.17 M331.87,401.64 V408.24 M333.34,401.71 V408.31 M335.25,401.89 V408.49 M338.72,402.68 V409.28 M340.33,403.21 V409.81 M342.22,403.73 V410.33 M344.89,404.48 V411.08 M346.24,405.30 V411.90 M348.95,406.12 V412.72 M350.96,406.94 V413.54 M352.15,407.35 V413.95 M354.28,408.17 V414.77 M356.42,409.51 V416.11 M358.42,410.43 V417.03 M361.00,411.35 V417.95 M362.60,412.27 V418.87 M364.91,413.19 V419.79 M366.56,414.13 V420.73 M369.77,415.56 V422.16 M371.04,416.04 V422.64 M373.27,417.00 V423.60 M375.53,417.95 V424.55 M378.07,419.39 V425.99 M379.44,419.87 V426.47 M382.24,421.30 V427.90 M383.71,421.78 V428.38 M385.83,422.73 V429.33 M387.90,424.17 V430.77 M389.24,424.64 V431.24 M391.93,425.60 V432.20 M393.63,426.55 V433.15 M395.45,427.64 V434.24 M398.68,429.52 V436.12 M399.84,430.14 V436.74 M402.36,431.27 V437.87 M404.80,431.92 V438.52 M406.63,432.58 V439.18 M408.37,433.23 V439.83 M410.73,433.97 V440.57 M412.86,435.45 V442.05 M420.35,436.93 V443.53 M424.01,436.93 V443.53 M427.68,436.93 V443.53 M431.34,436.93 V443.53 M435.01,436.93 V443.53 M443.55,443.29 V449.89 M446.00,443.29 V449.89 M458.21,452.11 V458.71 M465.54,452.11 V458.71 M471.65,452.11 V458.71 M498.51,478.32 V484.92 " fill="none" stroke="#c6c6d2" stroke-width="1.3"/>
<path d="M320.20,404.55 L320.71,404.55 L320.71,405.30 L321.73,405.30 L321.73,406.06 L322.75,406.06 L322.75,406.81 L323.77,406.81 L323.77,407.57 L324.79,407.57 L324.79,408.32 L325.81,408.32 L325.81,409.08 L326.83,409.08 L326.83,409.83 L327.85,409.83 L327.85,410.59 L328.88,410.59 L328.88,411.34 L329.90,411.34 L329.90,411.97 L330.92,411.97 L330.92,412.48 L331.94,412.48 L331.94,413.00 L332.96,413.00 L332.96,413.51 L333.98,413.51 L333.98,414.02 L335.00,414.02 L335.00,414.54 L336.02,414.54 L336.02,415.05 L337.04,415.05 L337.04,415.57 L338.06,415.57 L338.06,416.08 L339.08,416.08 L339.08,416.57 L340.10,416.57 L340.10,416.99 L341.12,416.99 L341.12,417.40 L342.14,417.40 L342.14,417.81 L343.16,417.81 L343.16,418.22 L344.18,418.22 L344.18,418.63 L345.20,418.63 L345.20,419.04 L346.23,419.04 L346.23,419.46 L347.25,419.46 L347.25,419.87 L348.27,419.87 L348.27,420.28 L349.29,420.28 L349.29,420.76 L350.31,420.76 L350.31,421.27 L351.33,421.27 L351.33,421.78 L352.35,421.78 L352.35,422.29 L353.37,422.29 L353.37,422.80 L354.39,422.80 L354.39,423.30 L355.41,423.30 L355.41,423.81 L356.43,423.81 L356.43,424.32 L357.45,424.32 L357.45,424.83 L358.47,424.83 L358.47,425.46 L359.49,425.46 L359.49,426.38 L360.51,426.38 L360.51,427.29 L361.53,427.29 L361.53,428.21 L362.55,428.21 L362.55,429.13 L363.58,429.13 L363.58,430.05 L364.60,430.05 L364.60,430.96 L365.62,430.96 L365.62,431.88 L366.64,431.88 L366.64,432.80 L367.66,432.80 L367.66,433.72 L368.68,433.72 L368.68,434.34 L369.70,434.34 L369.70,434.96 L370.72,434.96 L370.72,435.58 L371.74,435.58 L371.74,436.20 L372.76,436.20 L372.76,436.81 L373.78,436.81 L373.78,437.43 L374.80,437.43 L374.80,438.05 L375.82,438.05 L375.82,438.67 L376.84,438.67 L376.84,439.28 L377.86,439.28 L377.86,439.89 L378.88,439.89 L378.88,440.50 L379.91,440.50 L379.91,441.10 L380.93,441.10 L380.93,441.71 L381.95,441.71 L381.95,442.31 L382.97,442.31 L382.97,442.91 L383.99,442.91 L383.99,443.52 L385.01,443.52 L385.01,444.12 L386.03,444.12 L386.03,444.73 L387.05,444.73 L387.05,445.34 L388.07,445.34 L388.07,446.17 L389.09,446.17 L389.09,446.99 L390.11,446.99 L390.11,447.81 L391.13,447.81 L391.13,448.64 L392.15,448.64 L392.15,449.46 L393.17,449.46 L393.17,450.28 L394.19,450.28 L394.19,451.11 L395.21,451.11 L395.21,451.93 L396.23,451.93 L396.23,452.75 L397.26,452.75 L397.26,453.32 L398.28,453.32 L398.28,453.71 L399.30,453.71 L399.30,454.11 L400.32,454.11 L400.32,454.50 L401.34,454.50 L401.34,454.89 L402.36,454.89 L402.36,455.29 L403.38,455.29 L403.38,455.68 L404.40,455.68 L404.40,456.08 L405.42,456.08 L405.42,456.47 L406.44,456.47 L406.44,457.24 L407.46,457.24 L407.46,458.60 L408.48,458.60 L408.48,459.79 L409.50,459.79 L409.50,460.82 L410.52,460.82 L410.52,461.84 L411.54,461.84 L411.54,462.86 L412.56,462.86 L412.56,463.88 L413.58,463.88 L413.58,464.90 L414.61,464.90 L414.61,465.81 L415.63,465.81 L415.63,466.39 L416.65,466.39 L416.65,466.97 L417.67,466.97 L417.67,467.55 L418.69,467.55 L418.69,468.12 L419.71,468.12 L419.71,468.70 L420.73,468.70 L420.73,469.45 L421.75,469.45 L421.75,470.21 L422.77,470.21 L422.77,470.98 L427.56,470.98 L427.56,477.34 L440.26,477.34 L440.26,484.74 L456.01,484.74 L456.01,490.96 L503.40,490.96" fill="none" stroke="#ebab68" stroke-width="2.0" stroke-linejoin="miter" stroke-linecap="butt"/>
<path d="M321.83,403.06 V409.06 M322.93,403.81 V409.81 M325.66,405.32 V411.32 M327.28,406.83 V412.83 M329.40,408.34 V414.34 M332.20,410.00 V416.00 M333.89,410.51 V416.51 M336.04,412.05 V418.05 M338.41,413.08 V419.08 M340.71,413.99 V419.99 M342.10,414.40 V420.40 M344.42,415.63 V421.63 M346.34,416.46 V422.46 M348.43,417.28 V423.28 M350.77,418.27 V424.27 M352.50,419.29 V425.29 M354.69,420.30 V426.30 M356.69,421.32 V427.32 M359.44,422.46 V428.46 M361.16,424.29 V430.29 M363.49,426.13 V432.13 M365.67,428.88 V434.88 M366.75,429.80 V435.80 M369.26,431.34 V437.34 M371.90,433.20 V439.20 M373.82,434.43 V440.43 M374.88,435.05 V441.05 M376.93,436.28 V442.28 M379.47,437.50 V443.50 M381.01,438.71 V444.71 M383.33,439.91 V445.91 M385.17,441.12 V447.12 M388.11,443.17 V449.17 M390.35,444.81 V450.81 M392.59,446.46 V452.46 M393.59,447.28 V453.28 M396.48,449.75 V455.75 M398.48,450.71 V456.71 M399.80,451.11 V457.11 M402.95,452.29 V458.29 M405.15,453.08 V459.08 M406.14,453.47 V459.47 M409.28,456.79 V462.79 M410.55,458.84 V464.84 M412.76,460.88 V466.88 M415.57,462.81 V468.81 M417.41,463.97 V469.97 M418.51,464.55 V470.55 M420.98,466.45 V472.45 M423.18,467.98 V473.98 M425.00,467.98 V473.98 M426.87,467.98 V473.98 M429.12,474.34 V480.34 M431.79,474.34 V480.34 M432.84,474.34 V480.34 M435.69,474.34 V480.34 M437.61,474.34 V480.34 M439.07,474.34 V480.34 M441.60,481.74 V487.74 M444.78,481.74 V487.74 M448.44,481.74 V487.74 M460.65,487.96 V493.96 M469.20,487.96 V493.96 M486.30,487.96 V493.96 M488.74,487.96 V493.96 M491.19,487.96 V493.96 M502.18,487.96 V493.96 " fill="none" stroke="#ebab68" stroke-width="1.3"/>
<text x="501.6" y="529.5" font-size="11.2" text-anchor="end" fill="#111"><tspan font-style="italic">P</tspan> = .0010</text>
<text x="10.00" y="270.00" font-size="9.6" font-weight="bold" textLength="50" lengthAdjust="spacingAndGlyphs" fill="#111">No. at risk:</text>
<path d="M23.10,282.25 H36.30" stroke="#b9b9b9" stroke-width="1.9"/>
<text x="63.80" y="285.70" font-size="9.9" text-anchor="end" textLength="15.75" lengthAdjust="spacingAndGlyphs" fill="#222" style="stroke-width:0.08px">354</text>
<text x="125.40" y="285.70" font-size="9.9" text-anchor="end" textLength="15.75" lengthAdjust="spacingAndGlyphs" fill="#222" style="stroke-width:0.08px">111</text>
<text x="185.10" y="285.70" font-size="9.9" text-anchor="end" textLength="10.50" lengthAdjust="spacingAndGlyphs" fill="#222" style="stroke-width:0.08px">25</text>
<text x="242.80" y="285.70" font-size="9.9" text-anchor="end" textLength="5.25" lengthAdjust="spacingAndGlyphs" fill="#222" style="stroke-width:0.08px">4</text>
<path d="M23.10,295.20 H36.30" stroke="#5f97c2" stroke-width="1.9"/>
<text x="63.80" y="298.65" font-size="9.9" text-anchor="end" textLength="10.50" lengthAdjust="spacingAndGlyphs" fill="#222" style="stroke-width:0.08px">17</text>
<text x="125.40" y="298.65" font-size="9.9" text-anchor="end" textLength="5.25" lengthAdjust="spacingAndGlyphs" fill="#222" style="stroke-width:0.08px">6</text>
<text x="185.10" y="298.65" font-size="9.9" text-anchor="end" textLength="5.25" lengthAdjust="spacingAndGlyphs" fill="#222" style="stroke-width:0.08px">2</text>
<text x="242.80" y="298.65" font-size="9.9" text-anchor="end" textLength="5.25" lengthAdjust="spacingAndGlyphs" fill="#222" style="stroke-width:0.08px">0</text>
<path d="M23.10,308.15 H36.30" stroke="#50575f" stroke-width="1.9"/>
<text x="63.80" y="311.60" font-size="9.9" text-anchor="end" textLength="10.50" lengthAdjust="spacingAndGlyphs" fill="#222" style="stroke-width:0.08px">26</text>
<text x="125.40" y="311.60" font-size="9.9" text-anchor="end" textLength="5.25" lengthAdjust="spacingAndGlyphs" fill="#222" style="stroke-width:0.08px">4</text>
<text x="185.10" y="311.60" font-size="9.9" text-anchor="end" textLength="5.25" lengthAdjust="spacingAndGlyphs" fill="#222" style="stroke-width:0.08px">0</text>
<text x="242.80" y="311.60" font-size="9.9" text-anchor="end" textLength="5.25" lengthAdjust="spacingAndGlyphs" fill="#222" style="stroke-width:0.08px">0</text>
<text x="279.40" y="270.30" font-size="9.6" font-weight="bold" textLength="50" lengthAdjust="spacingAndGlyphs" fill="#111">No. at risk:</text>
<path d="M292.50,282.55 H305.70" stroke="#b9b9b9" stroke-width="1.9"/>
<text x="328.20" y="286.00" font-size="9.9" text-anchor="end" textLength="15.75" lengthAdjust="spacingAndGlyphs" fill="#222" style="stroke-width:0.08px">299</text>
<text x="386.80" y="286.00" font-size="9.9" text-anchor="end" textLength="10.50" lengthAdjust="spacingAndGlyphs" fill="#222" style="stroke-width:0.08px">81</text>
<text x="449.00" y="286.00" font-size="9.9" text-anchor="end" textLength="10.50" lengthAdjust="spacingAndGlyphs" fill="#222" style="stroke-width:0.08px">21</text>
<text x="507.00" y="286.00" font-size="9.9" text-anchor="end" textLength="5.25" lengthAdjust="spacingAndGlyphs" fill="#222" style="stroke-width:0.08px">3</text>
<path d="M292.50,295.50 H305.70" stroke="#5f97c2" stroke-width="1.9"/>
<text x="328.20" y="298.95" font-size="9.9" text-anchor="end" textLength="10.50" lengthAdjust="spacingAndGlyphs" fill="#222" style="stroke-width:0.08px">29</text>
<text x="386.80" y="298.95" font-size="9.9" text-anchor="end" textLength="10.50" lengthAdjust="spacingAndGlyphs" fill="#222" style="stroke-width:0.08px">11</text>
<text x="449.00" y="298.95" font-size="9.9" text-anchor="end" textLength="5.25" lengthAdjust="spacingAndGlyphs" fill="#222" style="stroke-width:0.08px">2</text>
<text x="507.00" y="298.95" font-size="9.9" text-anchor="end" textLength="5.25" lengthAdjust="spacingAndGlyphs" fill="#222" style="stroke-width:0.08px">0</text>
<path d="M292.50,308.45 H305.70" stroke="#50575f" stroke-width="1.9"/>
<text x="328.20" y="311.90" font-size="9.9" text-anchor="end" textLength="10.50" lengthAdjust="spacingAndGlyphs" fill="#222" style="stroke-width:0.08px">55</text>
<text x="386.80" y="311.90" font-size="9.9" text-anchor="end" textLength="10.50" lengthAdjust="spacingAndGlyphs" fill="#222" style="stroke-width:0.08px">21</text>
<text x="449.00" y="311.90" font-size="9.9" text-anchor="end" textLength="5.25" lengthAdjust="spacingAndGlyphs" fill="#222" style="stroke-width:0.08px">3</text>
<text x="507.00" y="311.90" font-size="9.9" text-anchor="end" textLength="5.25" lengthAdjust="spacingAndGlyphs" fill="#222" style="stroke-width:0.08px">0</text>
<text x="10.00" y="586.30" font-size="9.6" font-weight="bold" textLength="50" lengthAdjust="spacingAndGlyphs" fill="#111">No. at risk:</text>
<path d="M23.10,598.55 H36.30" stroke="#bdbdbd" stroke-width="1.9"/>
<text x="63.80" y="602.00" font-size="9.9" text-anchor="end" textLength="15.75" lengthAdjust="spacingAndGlyphs" fill="#222" style="stroke-width:0.08px">160</text>
<text x="125.40" y="602.00" font-size="9.9" text-anchor="end" textLength="10.50" lengthAdjust="spacingAndGlyphs" fill="#222" style="stroke-width:0.08px">63</text>
<text x="185.10" y="602.00" font-size="9.9" text-anchor="end" textLength="10.50" lengthAdjust="spacingAndGlyphs" fill="#222" style="stroke-width:0.08px">13</text>
<text x="242.80" y="602.00" font-size="9.9" text-anchor="end" textLength="5.25" lengthAdjust="spacingAndGlyphs" fill="#222" style="stroke-width:0.08px">0</text>
<path d="M23.10,611.50 H36.30" stroke="#000" stroke-width="1.9"/>
<text x="63.80" y="614.95" font-size="9.9" text-anchor="end" textLength="15.75" lengthAdjust="spacingAndGlyphs" fill="#222" style="stroke-width:0.08px">214</text>
<text x="125.40" y="614.95" font-size="9.9" text-anchor="end" textLength="10.50" lengthAdjust="spacingAndGlyphs" fill="#222" style="stroke-width:0.08px">52</text>
<text x="185.10" y="614.95" font-size="9.9" text-anchor="end" textLength="10.50" lengthAdjust="spacingAndGlyphs" fill="#222" style="stroke-width:0.08px">12</text>
<text x="242.80" y="614.95" font-size="9.9" text-anchor="end" textLength="5.25" lengthAdjust="spacingAndGlyphs" fill="#222" style="stroke-width:0.08px">3</text>
<text x="279.40" y="586.30" font-size="9.6" font-weight="bold" textLength="50" lengthAdjust="spacingAndGlyphs" fill="#111">No. at risk:</text>
<path d="M292.50,598.55 H305.70" stroke="#b6b6be" stroke-width="1.9"/>
<text x="328.20" y="602.00" font-size="9.9" text-anchor="end" textLength="15.75" lengthAdjust="spacingAndGlyphs" fill="#222" style="stroke-width:0.08px">253</text>
<text x="386.80" y="602.00" font-size="9.9" text-anchor="end" textLength="10.50" lengthAdjust="spacingAndGlyphs" fill="#222" style="stroke-width:0.08px">62</text>
<text x="449.00" y="602.00" font-size="9.9" text-anchor="end" textLength="10.50" lengthAdjust="spacingAndGlyphs" fill="#222" style="stroke-width:0.08px">14</text>
<text x="507.00" y="602.00" font-size="9.9" text-anchor="end" textLength="5.25" lengthAdjust="spacingAndGlyphs" fill="#222" style="stroke-width:0.08px">2</text>
<path d="M292.50,611.50 H305.70" stroke="#ddb070" stroke-width="1.9"/>
<text x="328.20" y="614.95" font-size="9.9" text-anchor="end" textLength="15.75" lengthAdjust="spacingAndGlyphs" fill="#222" style="stroke-width:0.08px">126</text>
<text x="386.80" y="614.95" font-size="9.9" text-anchor="end" textLength="10.50" lengthAdjust="spacingAndGlyphs" fill="#222" style="stroke-width:0.08px">58</text>
<text x="449.00" y="614.95" font-size="9.9" text-anchor="end" textLength="10.50" lengthAdjust="spacingAndGlyphs" fill="#222" style="stroke-width:0.08px">13</text>
<text x="507.00" y="614.95" font-size="9.9" text-anchor="end" textLength="5.25" lengthAdjust="spacingAndGlyphs" fill="#222" style="stroke-width:0.08px">2</text>
<rect x="0" y="0" width="520" height="1.2" fill="#000"/>
<rect x="0" y="0" width="1.2" height="627" fill="#000"/>
<rect x="518.6" y="0" width="1.4" height="627" fill="#000"/>
<rect x="0" y="625.6" width="520" height="1.4" fill="#000"/>
</svg></body></html>
